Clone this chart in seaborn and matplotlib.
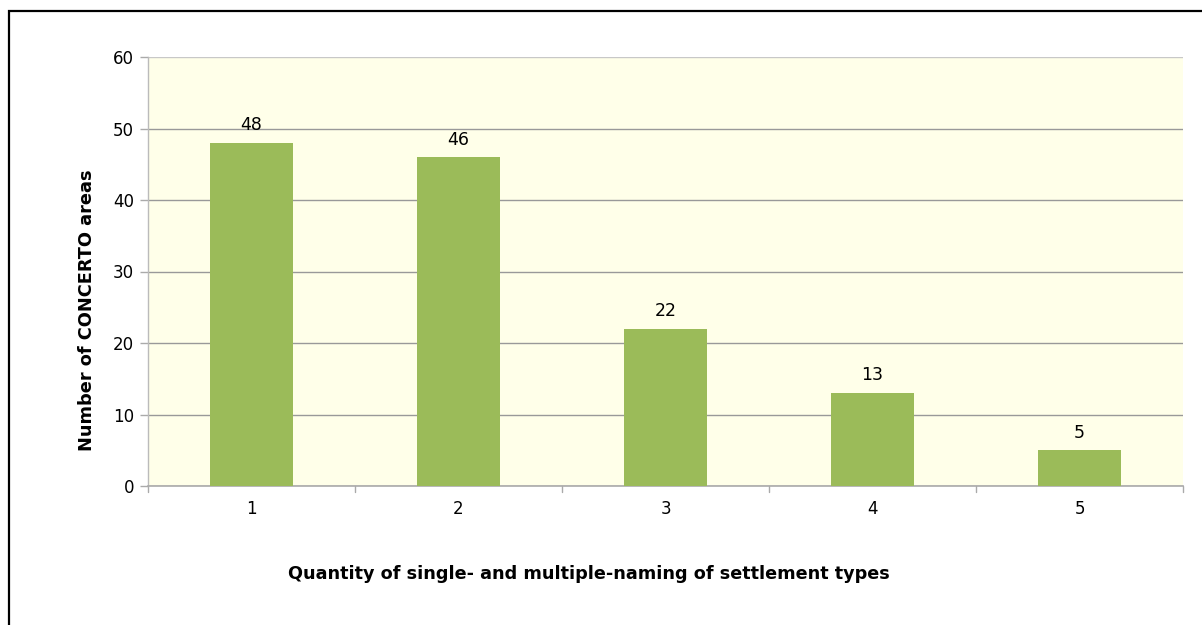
import matplotlib
matplotlib.use("Agg")
import matplotlib.pyplot as plt
import seaborn as sns
import pandas as pd
from matplotlib.patches import Rectangle

# Data
categories = ["1", "2", "3", "4", "5"]
counts = [48, 46, 22, 13, 5]

df = pd.DataFrame({"naming": categories, "areas": counts})

sns.set_theme(style="white")
plt.rcParams["font.family"] = ["DejaVu Sans"]
plt.rcParams["text.color"] = "black"
plt.rcParams["axes.labelcolor"] = "black"

fig = plt.figure(figsize=(12.02, 6.25), dpi=100)
ax = fig.add_axes([148 / 1202, 1 - 486 / 625, (1183 - 148) / 1202, (486 - 57) / 625])

# Outer frame around the whole chart
fig.patches.append(Rectangle((9 / 1202, -0.05), 1.2, 1 - 11 / 625 + 0.05,
                             transform=fig.transFigure, fill=False,
                             edgecolor="black", linewidth=1.6, zorder=10))

ax.set_facecolor("#FFFFE9")
sns.barplot(data=df, x="naming", y="areas", color="#9BBB59", width=0.4,
            saturation=1, edgecolor="none", linewidth=0, ax=ax, zorder=3)

ax.set_ylim(0, 60)
ax.set_xlim(-0.5, 4.5)
ax.set_yticks(range(0, 61, 10))
ax.yaxis.grid(True, color="#999999", linewidth=1, zorder=0)
ax.set_axisbelow(True)
# lighter line along the top of the plot area
ax.get_ygridlines()[-1].set_color("#C8C8C8")

for s in ["top", "right"]:
    ax.spines[s].set_visible(False)
ax.spines["left"].set_color("#BBBBBB")
ax.spines["bottom"].set_color("#AAAAAA")
ax.spines["left"].set_linewidth(1)
ax.spines["bottom"].set_linewidth(1.2)

ax.tick_params(axis="y", left=True, length=6, width=1, color="#AAAAAA",
               labelsize=12, pad=4, labelcolor="black")
ax.tick_params(axis="x", bottom=False, labelsize=12, pad=4, labelcolor="black")

# Boundary tick marks between categories
for b in [-0.5, 0.5, 1.5, 2.5, 3.5, 4.5]:
    ax.plot([b, b], [0, -0.014], transform=ax.get_xaxis_transform(),
            color="#AAAAAA", linewidth=1, clip_on=False)

# Value labels
for i, v in enumerate(counts):
    ax.text(i, v + 1.2, str(v), ha="center", va="bottom", fontsize=12.5, color="black")

ax.set_ylabel("Number of CONCERTO areas", fontsize=12.8, fontweight="bold")
ax.set_xlabel("Quantity of single- and multiple-naming of settlement types",
              fontsize=12.7, fontweight="bold")
ax.xaxis.set_label_coords((589 - 148) / (1183 - 148), -(565 - 486) / (486 - 57))
ax.yaxis.set_label_coords(-(148 - 96) / (1183 - 148), (486 - 310) / (486 - 57))

fig.savefig("out.png", dpi=100, facecolor="white")
